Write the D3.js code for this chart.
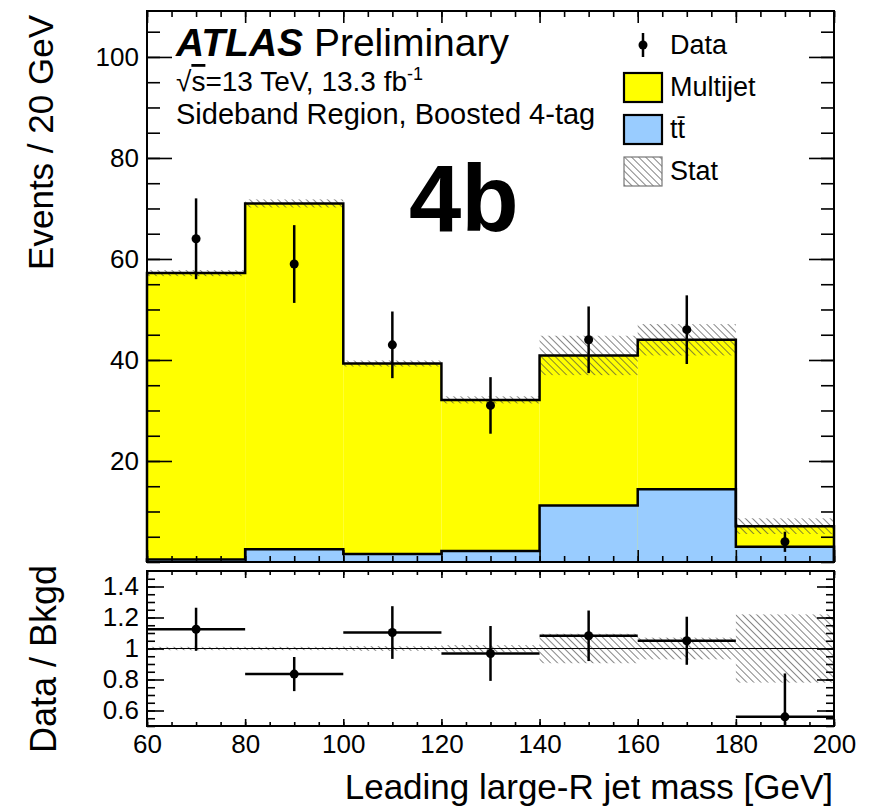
<!DOCTYPE html>
<html>
<head>
<meta charset="utf-8">
<script src="https://cdn.jsdelivr.net/npm/d3@7"></script>
<style>
body { margin:0; background:#fff; }
text { font-family: "Liberation Sans", Arial, Helvetica, sans-serif; fill:#000; }
</style>
</head>
<body>
<div id="chart-area"></div>
<script>
// bins and values
var edges = [60, 80, 100, 120, 140, 160, 180, 200];
var ttbar = [0.5, 2.5, 1.6, 2.2, 11.2, 14.4, 3.0];
var multijet = [56.7, 68.5, 37.7, 29.9, 29.7, 29.6, 4.1];
var statErr = [0.6, 0.8, 0.6, 0.7, 3.9, 3.1, 1.55];
var data = [64, 59, 43, 31, 44, 46, 4];
var dataErr = [8, 7.7, 6.6, 5.6, 6.6, 6.8, 2.0];
var ratio = [1.124, 0.835, 1.103, 0.968, 1.082, 1.05, 0.559];
var ratioErr = [0.139, 0.11, 0.17, 0.177, 0.163, 0.155, 0.28];
var ratioBand = [0.011, 0.011, 0.015, 0.022, 0.095, 0.07, 0.22];
var xTicks = [60, 80, 100, 120, 140, 160, 180, 200];
var yTicks = [20, 40, 60, 80, 100];
var rTicks = [0.6, 0.8, 1, 1.2, 1.4];

var total_width = 878;
var total_height = 806;

var svg = d3.select('#chart-area').append('svg')
            .attr("width", total_width)
            .attr("height", total_height);

svg.append("rect").attr("width", total_width).attr("height", total_height).attr("fill", "#fff");

var pat = svg.append("defs").append("pattern")
             .attr("id", "hatch")
             .attr("patternUnits", "userSpaceOnUse")
             .attr("width", 5).attr("height", 10)
             .attr("patternTransform", "rotate(-45)");
pat.append("line")
   .attr("x1", 0).attr("y1", 0).attr("x2", 0).attr("y2", 10)
   .attr("stroke", "#444").attr("stroke-width", 1.3);

var left = 147, right = 834;
var main = {top: 11, bottom: 562};
var rpad = {top: 571, bottom: 726};

var x = d3.scaleLinear().domain([60, 200]).range([left, right]);
var y = d3.scaleLinear().domain([0, 109.1]).range([main.bottom, main.top]);
var yr = d3.scaleLinear().domain([0.5, 1.5]).range([rpad.bottom, rpad.top]);

var bins = d3.range(ttbar.length).map(function(i) {
  return {lo: edges[i], hi: edges[i+1], ttbar: ttbar[i], multijet: multijet[i]};
});
var stack = d3.stack().keys(["ttbar", "multijet"])(bins);

// ---------- main panel ----------
var g = svg.append("g");

var fills = {ttbar: "#99ccff", multijet: "#ffff00"};
stack.slice().reverse().forEach(function(layer) {
  g.selectAll(null).data(layer).enter().append("rect")
   .attr("x", function(d) { return x(d.data.lo); })
   .attr("width", function(d) { return x(d.data.hi) - x(d.data.lo); })
   .attr("y", function(d) { return y(d[1]); })
   .attr("height", function(d) { return y(0) - y(d[1]); })
   .attr("fill", fills[layer.key]);
});

// stat band
g.selectAll(".stat").data(bins).enter().append("rect")
 .attr("x", function(d) { return x(d.lo); })
 .attr("width", function(d) { return x(d.hi) - x(d.lo); })
 .attr("y", function(d, i) { return y(d.ttbar + d.multijet + statErr[i]); })
 .attr("height", function(d, i) { return y(d.ttbar + d.multijet - statErr[i]) - y(d.ttbar + d.multijet + statErr[i]); })
 .attr("fill", "url(#hatch)");

// outlines
var step = d3.line()
             .x(function(d) { return x(d[0]); })
             .y(function(d) { return y(d[1]); })
             .curve(d3.curveStepAfter);

stack.forEach(function(layer) {
  var pts = [[edges[0], 0]];
  layer.forEach(function(d) { pts.push([d.data.lo, d[1]]); });
  pts.push([edges[edges.length-1], layer[layer.length-1][1]]);
  pts.push([edges[edges.length-1], 0]);
  g.append("path")
   .attr("d", step(pts))
   .attr("fill", "none")
   .attr("stroke", "#000")
   .attr("stroke-width", 2.5);
});

// data
var centers = bins.map(function(d) { return (d.lo + d.hi) / 2; });
g.selectAll(".derr").data(data).enter().append("line")
 .attr("x1", function(d, i) { return x(centers[i]); })
 .attr("x2", function(d, i) { return x(centers[i]); })
 .attr("y1", function(d, i) { return y(d + dataErr[i]); })
 .attr("y2", function(d, i) { return y(Math.max(0, d - dataErr[i])); })
 .attr("stroke", "#000").attr("stroke-width", 2.5);
g.selectAll(".dpt").data(data).enter().append("circle")
 .attr("cx", function(d, i) { return x(centers[i]); })
 .attr("cy", function(d) { return y(d); })
 .attr("r", 4.5)
 .attr("fill", "#000");

// ---------- ratio panel ----------
svg.append("clipPath").attr("id", "rclip").append("rect")
   .attr("x", left).attr("y", rpad.top)
   .attr("width", right - left).attr("height", rpad.bottom - rpad.top);
var r = svg.append("g").attr("clip-path", "url(#rclip)");

r.selectAll(".rband").data(bins).enter().append("rect")
 .attr("x", function(d) { return x(d.lo); })
 .attr("width", function(d) { return x(d.hi) - x(d.lo); })
 .attr("y", function(d, i) { return yr(1 + ratioBand[i]); })
 .attr("height", function(d, i) { return yr(1 - ratioBand[i]) - yr(1 + ratioBand[i]); })
 .attr("fill", "url(#hatch)");

r.append("line")
 .attr("x1", left).attr("x2", right)
 .attr("y1", yr(1)).attr("y2", yr(1))
 .attr("stroke", "#000").attr("stroke-width", 1.2);

r.selectAll(".rx").data(ratio).enter().append("line")
 .attr("x1", function(d, i) { return x(edges[i]); })
 .attr("x2", function(d, i) { return x(edges[i+1]); })
 .attr("y1", function(d) { return yr(d); })
 .attr("y2", function(d) { return yr(d); })
 .attr("stroke", "#000").attr("stroke-width", 2.5);
r.selectAll(".ry").data(ratio).enter().append("line")
 .attr("x1", function(d, i) { return x(centers[i]); })
 .attr("x2", function(d, i) { return x(centers[i]); })
 .attr("y1", function(d, i) { return yr(d + ratioErr[i]); })
 .attr("y2", function(d, i) { return yr(d - ratioErr[i]); })
 .attr("stroke", "#000").attr("stroke-width", 2.5);
r.selectAll(".rpt").data(ratio).enter().append("circle")
 .attr("cx", function(d, i) { return x(centers[i]); })
 .attr("cy", function(d) { return yr(d); })
 .attr("r", 4.5)
 .attr("fill", "#000");

// ---------- axes / ticks (ROOT style, inside the frame) ----------
function ticks(axis, tx, ty) {
  var a = svg.append("g").attr("transform", "translate(" + tx + "," + ty + ")").call(axis);
  a.select(".domain").remove();
  a.selectAll("line").attr("stroke", "#000").attr("stroke-width", 1.6);
  a.selectAll("text").style("font-size", "26px").attr("fill", "#000");
  return a;
}

// main y
ticks(d3.axisLeft(y).tickValues(d3.range(0, 109, 5)).tickSize(-13).tickFormat(""), left, 0);
ticks(d3.axisLeft(y).tickValues(yTicks).tickSize(-25).tickPadding(8), left, 0);
ticks(d3.axisRight(y).tickValues(d3.range(0, 109, 5)).tickSize(-13).tickFormat(""), right, 0);
ticks(d3.axisRight(y).tickValues(yTicks).tickSize(-25).tickFormat(""), right, 0);
// main x
ticks(d3.axisBottom(x).tickValues(d3.range(60, 201, 5)).tickSize(-6).tickFormat(""), 0, main.bottom);
ticks(d3.axisBottom(x).tickValues(xTicks).tickSize(-12).tickFormat(""), 0, main.bottom);
ticks(d3.axisTop(x).tickValues(d3.range(60, 201, 5)).tickSize(-6).tickFormat(""), 0, main.top);
ticks(d3.axisTop(x).tickValues(xTicks).tickSize(-12).tickFormat(""), 0, main.top);

// ratio y
ticks(d3.axisLeft(yr).tickValues(d3.range(0.5, 1.5, 0.05)).tickSize(-8).tickFormat(""), left, 0);
ticks(d3.axisLeft(yr).tickValues(rTicks).tickSize(-17).tickPadding(8)
        .tickFormat(function(d) { return d === 1 ? "1" : d3.format(".1f")(d); }), left, 0);
ticks(d3.axisRight(yr).tickValues(d3.range(0.5, 1.5, 0.05)).tickSize(-8).tickFormat(""), right, 0);
ticks(d3.axisRight(yr).tickValues(rTicks).tickSize(-17).tickFormat(""), right, 0);
// ratio x
ticks(d3.axisBottom(x).tickValues(d3.range(60, 201, 5)).tickSize(-4).tickFormat(""), 0, rpad.bottom);
ticks(d3.axisBottom(x).tickValues(xTicks).tickSize(-7).tickPadding(9), 0, rpad.bottom);
ticks(d3.axisTop(x).tickValues(d3.range(60, 201, 5)).tickSize(-4).tickFormat(""), 0, rpad.top);
ticks(d3.axisTop(x).tickValues(xTicks).tickSize(-7).tickFormat(""), 0, rpad.top);

// frames
[main, rpad].forEach(function(p) {
  svg.append("rect")
     .attr("x", left).attr("y", p.top)
     .attr("width", right - left).attr("height", p.bottom - p.top)
     .attr("fill", "none").attr("stroke", "#000").attr("stroke-width", 2);
});

// ---------- titles ----------
svg.append("text")
   .attr("transform", "translate(53,15) rotate(-90)")
   .style("text-anchor", "end")
   .style("font-size", "35px")
   .text("Events / 20 GeV");

svg.append("text")
   .attr("transform", "translate(56,565) rotate(-90)")
   .style("text-anchor", "end")
   .style("font-size", "36px")
   .text("Data / Bkgd");

svg.append("text")
   .attr("x", 833).attr("y", 799)
   .style("text-anchor", "end")
   .style("font-size", "35px")
   .text("Leading large-R jet mass [GeV]");

var atlas = svg.append("text").attr("x", 176).attr("y", 56).style("font-size", "39px");
atlas.append("tspan").style("font-weight", "bold").style("font-style", "italic").text("ATLAS");
atlas.append("tspan").text(" Preliminary");

var lumi = svg.append("text").attr("x", 176).attr("y", 91).style("font-size", "28px");
lumi.append("tspan").text("\u221A");
lumi.append("tspan").style("text-decoration", "overline").text("s");
lumi.append("tspan").text("=13 TeV, 13.3 fb");
lumi.append("tspan").attr("dy", -11).style("font-size", "18px").text("-1");

svg.append("text")
   .attr("x", 176).attr("y", 124)
   .style("font-size", "29px")
   .text("Sideband Region, Boosted 4-tag");

svg.append("text")
   .attr("x", 409).attr("y", 231)
   .style("font-size", "94px")
   .style("font-weight", "bold")
   .text("4b");

// ---------- legend ----------
var leg = svg.append("g");
leg.append("line")
   .attr("x1", 643).attr("x2", 643).attr("y1", 33).attr("y2", 57)
   .attr("stroke", "#000").attr("stroke-width", 2.5);
leg.append("circle").attr("cx", 643).attr("cy", 45).attr("r", 4.5).attr("fill", "#000");

var legItems = [
  {label: "Multijet", fill: fills.multijet, stroke: "#000", sw: 2.2},
  {label: "t\u0074\u0304", fill: fills.ttbar, stroke: "#000", sw: 2.2},
  {label: "Stat", fill: "url(#hatch)", stroke: "#777", sw: 1.2}
];
leg.selectAll(".lbox").data(legItems).enter().append("rect")
   .attr("x", 624).attr("y", function(d, i) { return 73 + i * 42; })
   .attr("width", 38).attr("height", 29)
   .attr("fill", function(d) { return d.fill; })
   .attr("stroke", function(d) { return d.stroke; })
   .attr("stroke-width", function(d) { return d.sw; });

var legLabels = ["Data"].concat(legItems.map(function(d) { return d.label; }));
leg.selectAll(".ltxt").data(legLabels).enter().append("text")
   .attr("x", 670)
   .attr("y", function(d, i) { return 54 + i * 42; })
   .style("font-size", "27px")
   .text(function(d) { return d; });
</script>
</body>
</html>
